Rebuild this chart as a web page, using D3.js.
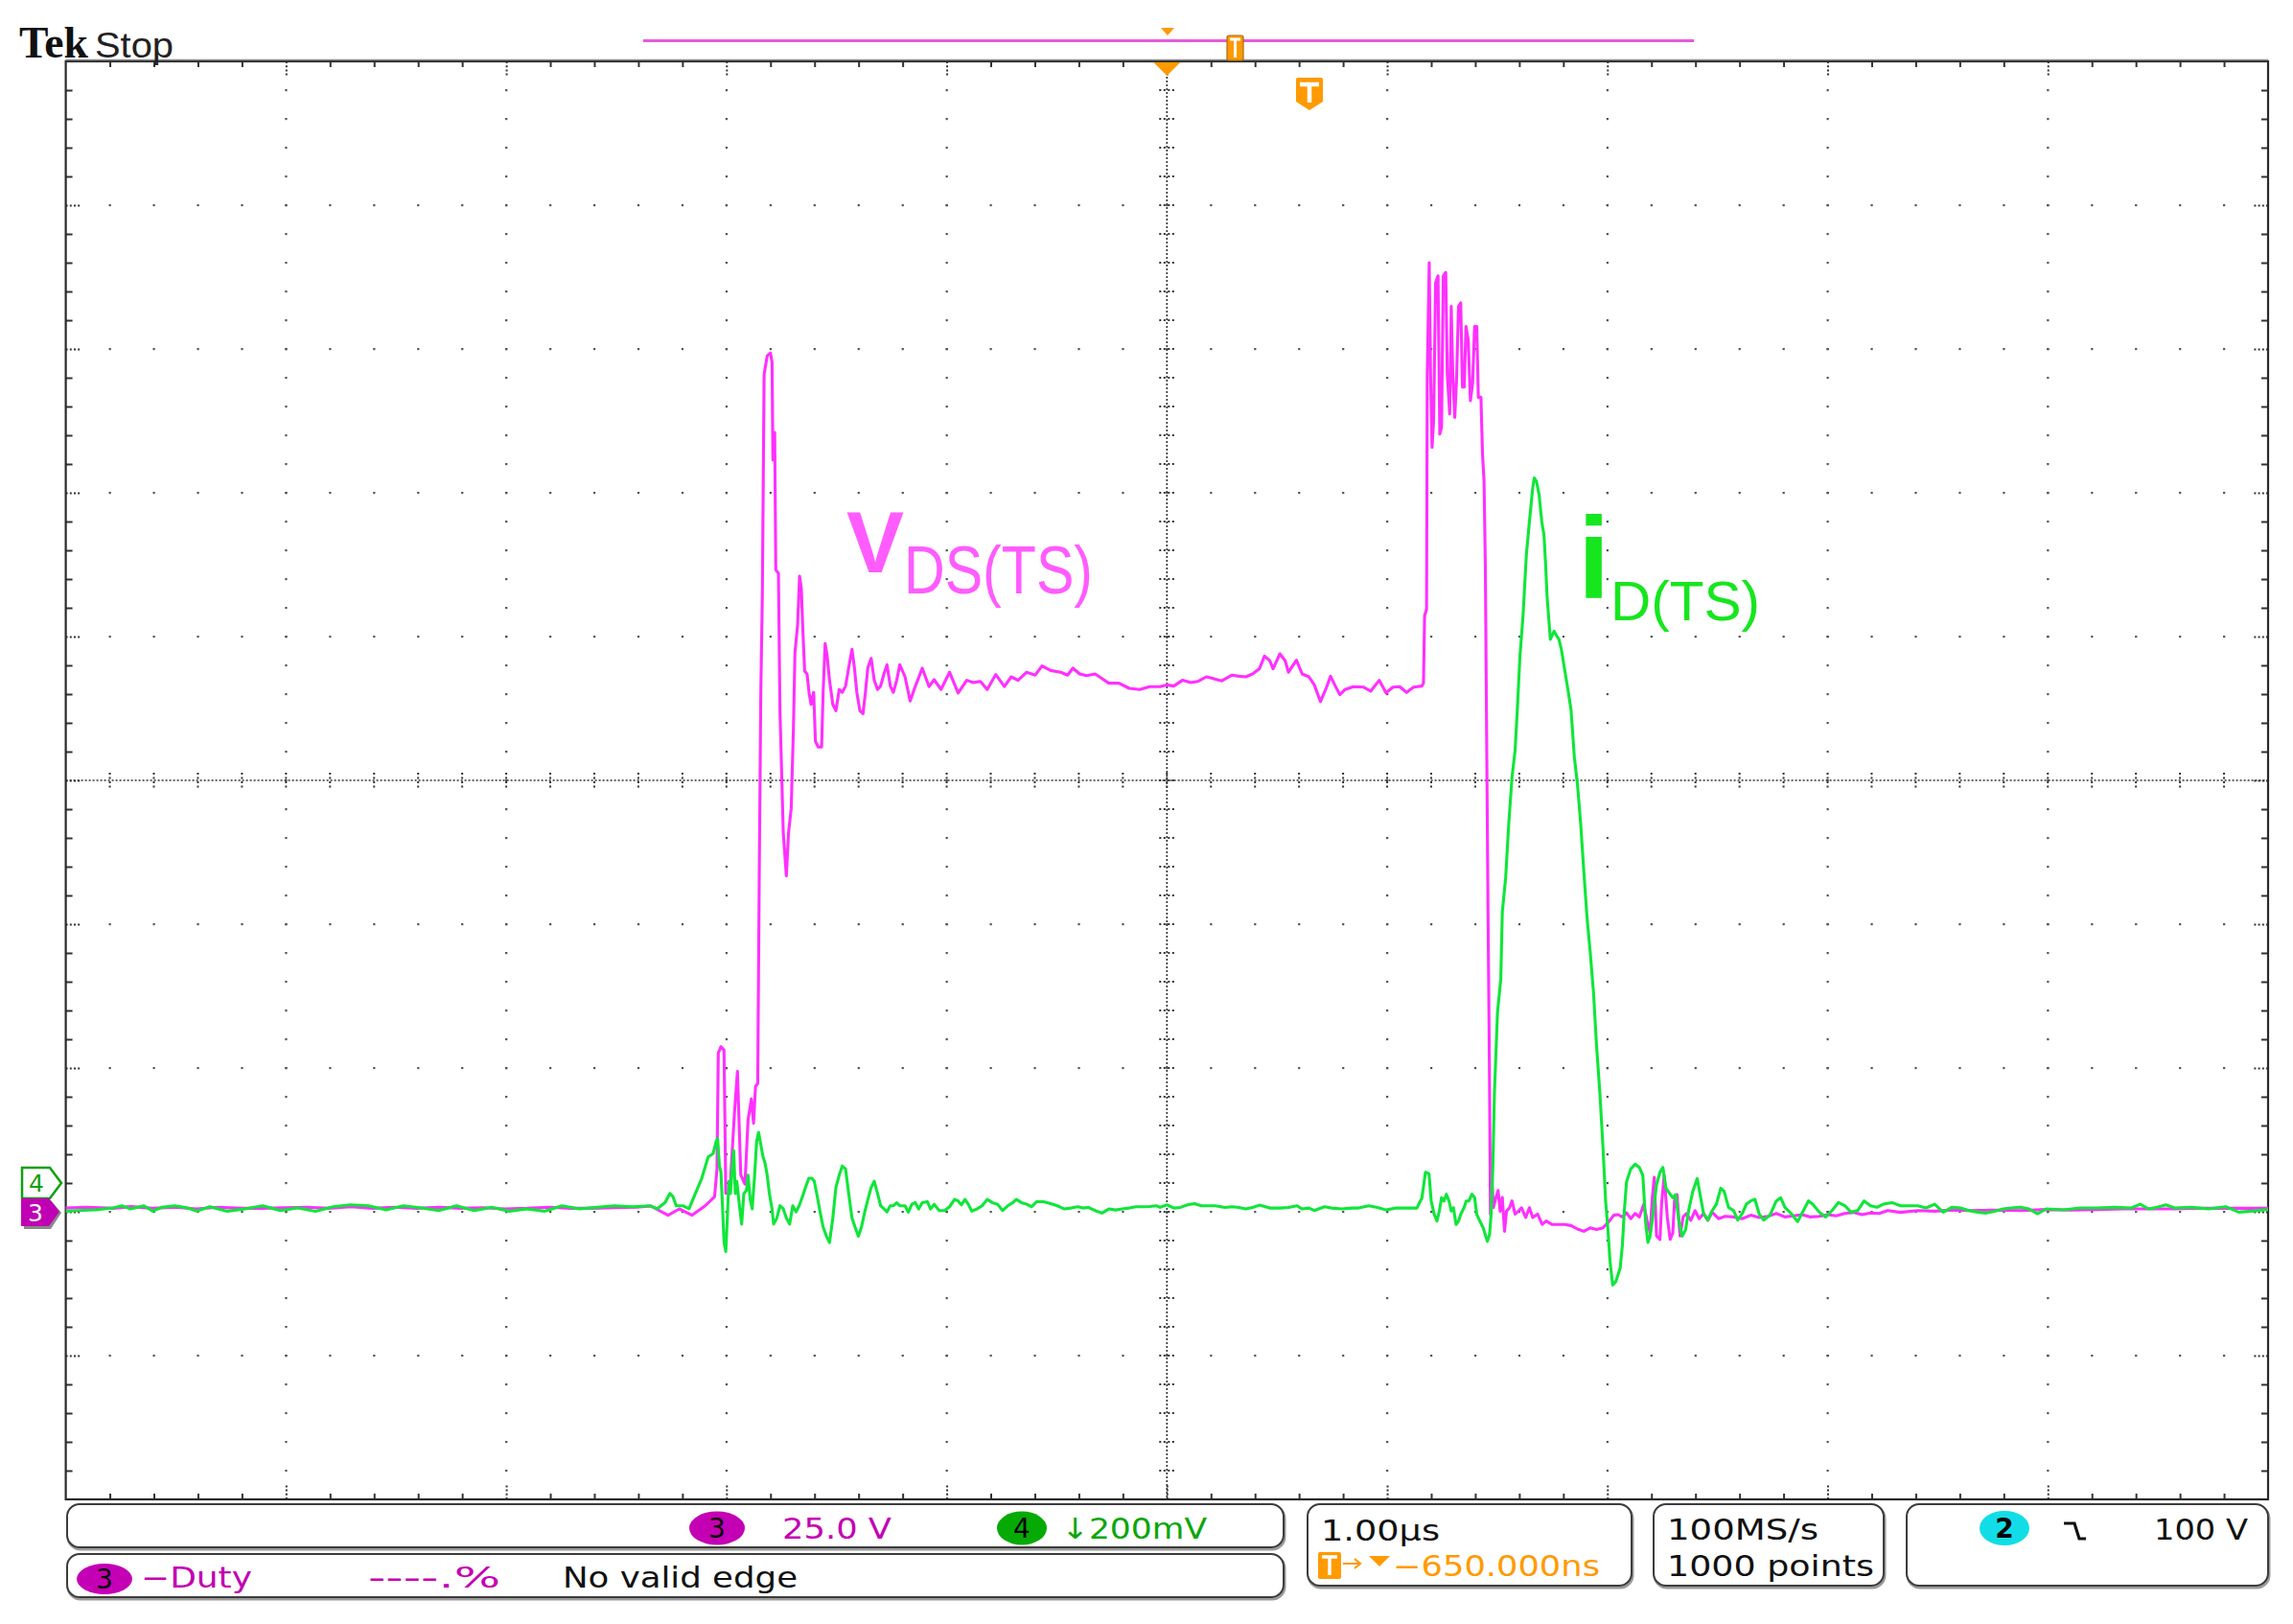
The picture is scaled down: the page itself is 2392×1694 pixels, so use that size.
<!DOCTYPE html>
<html><head><meta charset="utf-8">
<script src="https://cdn.jsdelivr.net/npm/d3@7"></script>
<style>html,body{margin:0;padding:0;background:#fff;}svg{display:block;}</style>
</head><body>
<svg id="c" width="2392" height="1694"></svg>
<script>
// ---- Data (time in µs relative to screen centre) ----
// Channel 3 : V_DS(TS) in volts (25 V/div)
const vdsTrace = [
[-5.0,0.65],[-4.905,0.8],[-4.785,0.6],[-4.705,0.9],[-4.605,0.6],[-4.505,0.8],[-4.406,0.5],[-4.306,0.8],[-4.206,0.6],[-4.106,0.6],[-4.006,0.7],[-3.906,0.8],[-3.806,0.6],[-3.706,0.9],[-3.606,0.6],[-3.506,0.8],[-3.406,0.6],[-3.306,0.8],[-3.206,0.6],[-3.106,0.7],[-3.006,0.5],[-2.906,0.6],[-2.807,0.8],[-2.707,0.6],[-2.607,0.6],[-2.507,0.7],[-2.407,0.8],
[-2.344,1.0],[-2.265,-0.6],[-2.214,0.5],[-2.156,-0.6],[-2.098,1.0],[-2.054,2.6],[-2.043,7.4],[-2.037,27.6],[-2.025,28.7],[-2.011,28.1],[-2.003,3.2],[-1.985,3.2],[-1.964,17.0],[-1.950,24.4],[-1.935,6.4],[-1.916,4.8],[-1.902,15.9],[-1.887,19.6],[-1.877,15.4],[-1.868,21.8],[-1.858,22.3],[-1.851,58.4],[-1.844,90.3],[-1.837,107.3],[-1.829,145.6],[-1.815,148.8],[-1.800,149.3],[-1.793,147.7],[-1.789,130.7],[-1.781,135.5],[-1.776,111.6],[-1.764,111.0],[-1.757,87.1],[-1.742,65.9],[-1.728,58.4],[-1.718,65.9],[-1.706,70.1],[-1.696,83.9],[-1.689,97.2],[-1.677,102.0],[-1.668,110.5],[-1.660,108.4],[-1.654,102.0],[-1.645,94.0],[-1.634,93.5],[-1.625,90.3],[-1.616,88.2],[-1.604,90.3],[-1.596,81.8],[-1.583,80.8],[-1.568,80.8],[-1.561,90.3],[-1.552,98.8],[-1.543,96.7],[-1.532,92.4],[-1.517,88.2],[-1.503,87.1],[-1.488,90.8],[-1.474,90.3],[-1.459,91.4],[-1.445,94.6],[-1.430,97.8],[-1.419,94.6],[-1.408,90.3],[-1.394,87.1],[-1.380,86.6],[-1.369,90.3],[-1.358,94.6],[-1.343,96.2],[-1.329,92.4],[-1.314,90.8],[-1.300,91.4],[-1.285,93.5],[-1.271,95.1],[-1.256,91.4],[-1.242,90.3],[-1.227,92.4],[-1.213,95.1],
[-1.189,93.0],[-1.166,88.8],[-1.143,91.3],[-1.111,94.5],[-1.080,91.3],[-1.057,92.5],[-1.026,90.8],[-0.987,93.8],[-0.948,90.2],[-0.909,92.4],[-0.878,92.0],[-0.847,92.2],[-0.816,90.8],[-0.777,93.4],[-0.738,91.3],[-0.707,93.0],[-0.676,92.4],[-0.637,93.8],[-0.598,93.3],[-0.567,94.9],[-0.528,94.1],[-0.482,93.8],[-0.451,93.3],[-0.427,94.5],[-0.396,93.5],[-0.365,93.2],[-0.326,93.5],[-0.295,92.7],[-0.264,91.9],[-0.218,91.9],[-0.171,91.0],[-0.124,90.8],[-0.078,91.3],[-0.031,91.3],[0.000,91.6],[0.031,91.4],[0.070,92.4],[0.109,92.0],[0.140,92.2],[0.179,93.0],[0.210,92.7],[0.249,92.3],[0.296,93.3],[0.327,93.1],[0.358,93.0],[0.389,93.5],[0.420,94.4],[0.443,96.6],[0.467,95.8],[0.482,94.4],[0.513,97.0],[0.537,95.8],[0.552,93.8],[0.588,95.9],[0.614,93.5],[0.645,93.0],[0.669,91.6],[0.697,88.7],[0.723,91.0],[0.743,93.1],[0.762,91.6],[0.785,89.9],[0.809,90.8],[0.847,91.3],[0.894,91.2],[0.925,90.5],[0.964,92.4],[0.995,90.2],[1.026,91.2],[1.057,91.3],[1.088,90.3],[1.120,91.2],[1.158,91.4],
[1.165,91.9],[1.170,103.6],[1.179,104.8],[1.182,145.1],[1.191,165.0],[1.197,145.7],[1.204,132.9],[1.211,137.5],[1.220,161.5],[1.231,162.7],[1.239,135.2],[1.247,136.4],[1.255,162.7],[1.266,163.3],[1.273,145.7],[1.284,138.7],[1.291,157.4],[1.298,145.7],[1.307,138.1],[1.315,144.5],[1.324,157.4],[1.334,158.0],[1.342,143.4],[1.350,143.4],[1.358,153.9],[1.368,151.6],[1.378,141.0],[1.388,144.0],[1.397,153.9],[1.407,153.9],[1.414,141.6],[1.426,141.6],[1.433,131.7],[1.440,127.0],[1.446,111.8],[1.452,81.4],[1.458,52.2],[1.464,26.5],[1.469,-0.4],[1.475,6.6],[1.482,0.7],[1.494,2.5],[1.504,3.7],[1.513,0.1],[1.523,2.5],[1.533,-3.4],[1.542,0.1],[1.556,0.7],[1.567,1.9],[1.581,-0.4],[1.596,0.1],[1.610,0.7],[1.629,-1.0],[1.646,0.7],[1.661,-1.0],[1.683,-0.4],[1.704,-2.2],[1.722,-1.6],[1.748,-2.2],[1.777,-2.2],[1.806,-2.2],[1.835,-2.4],[1.864,-3.0],[1.893,-3.4],[1.922,-2.8],[1.951,-3.1],[1.980,-2.8],[2.009,-1.6],
[2.029,-0.6],[2.048,-0.5],[2.068,-0.9],[2.087,-0.2],[2.106,-1.2],[2.126,-0.3],[2.145,-0.9],[2.165,1.3],[2.180,-1.5],[2.194,-3.7],[2.204,2.4],[2.213,6.0],[2.223,-4.2],[2.239,-4.8],[2.246,1.3],[2.258,6.3],[2.272,-0.9],[2.285,-4.8],[2.297,-3.7],[2.305,1.9],[2.316,3.0],[2.330,-4.2],[2.344,-0.9],[2.359,-0.3],[2.379,-1.5],[2.398,0.2],[2.417,-1.2],[2.437,-0.3],[2.456,-1.5],[2.476,-0.1],[2.505,-1.2],[2.534,-0.8],[2.573,-0.9],[2.612,-1.2],[2.651,-0.6],[2.689,-1.0],[2.728,-0.8],[2.767,-0.3],[2.806,-0.9],[2.845,-0.7],[2.884,-0.5],[2.923,-0.9],[2.962,-0.8],[3.000,-0.5],[3.039,-0.7],[3.078,-0.3],[3.117,-0.1],[3.156,-0.5],[3.195,-0.2],[3.234,-0.3],[3.273,0.2],[3.331,-0.1],[3.409,0.2],[3.486,0.1],[3.564,0.3],[3.642,0.2],[3.758,0.3],[3.875,0.2],[3.992,0.4],[4.108,0.3],[4.225,0.4],[4.342,0.5],[4.458,0.5],[4.575,0.5],[4.691,0.6],[4.808,0.6],[4.925,0.6],[5.0,0.6]
];
// Channel 4 : i_D(TS) probe output in mV (200 mV/div)
const idTrace = [
[-5.0,-39.2],[-4.945,-38.3],[-4.865,-37.4],[-4.785,-34.7],[-4.745,-31.6],[-4.705,-36.0],[-4.645,-31.6],[-4.605,-39.2],[-4.565,-33.8],[-4.505,-31.6],[-4.446,-34.7],[-4.406,-39.2],[-4.346,-32.9],[-4.266,-39.2],[-4.186,-36.0],[-4.106,-31.6],[-4.026,-38.3],[-3.946,-34.7],[-3.866,-39.2],[-3.786,-32.9],[-3.706,-30.3],[-3.626,-31.6],[-3.546,-37.4],[-3.466,-31.6],[-3.386,-34.7],[-3.306,-38.3],[-3.226,-31.6],[-3.146,-38.3],[-3.066,-33.8],[-2.986,-39.2],[-2.906,-36.0],[-2.827,-39.2],[-2.747,-31.6],[-2.667,-36.0],[-2.587,-33.8],[-2.507,-31.6],[-2.427,-32.9],[-2.347,-31.6],
[-2.315,-35.9],[-2.279,-27.4],[-2.257,-14.6],[-2.243,-18.9],[-2.228,-31.6],[-2.199,-31.6],[-2.170,-35.9],[-2.141,-14.6],[-2.112,6.6],[-2.083,36.4],[-2.061,40.6],[-2.047,57.6],[-2.040,61.9],[-2.032,23.6],[-2.025,15.1],[-2.018,-31.6],[-2.011,-82.7],[-2.003,-95.4],[-1.996,-48.6],[-1.989,2.4],[-1.982,-14.6],[-1.974,19.4],[-1.967,44.9],[-1.960,-14.6],[-1.953,2.4],[-1.941,-31.6],[-1.931,-57.1],[-1.921,-14.6],[-1.909,-10.4],[-1.902,10.9],[-1.892,-23.1],[-1.883,-35.9],[-1.873,6.6],[-1.863,57.6],[-1.854,70.4],[-1.844,53.4],[-1.834,36.4],[-1.825,27.9],[-1.815,10.9],[-1.805,-14.6],[-1.793,-35.9],[-1.786,-57.1],[-1.771,-48.6],[-1.757,-31.6],[-1.742,-35.9],[-1.728,-48.6],[-1.713,-57.1],[-1.699,-31.6],[-1.684,-40.1],[-1.670,-31.6],[-1.655,-18.9],[-1.641,-6.1],[-1.626,6.6],[-1.612,6.6],[-1.601,2.4],[-1.590,-14.6],[-1.575,-40.1],[-1.561,-61.4],[-1.546,-74.1],[-1.532,-82.7],[-1.517,-48.6],[-1.503,-6.1],[-1.488,10.9],[-1.474,23.6],[-1.459,19.4],[-1.445,-14.6],[-1.430,-48.6],[-1.416,-61.4],[-1.401,-74.1],[-1.387,-61.4],[-1.372,-40.1],[-1.358,-23.1],[-1.343,-6.1],[-1.329,2.4],[-1.314,-14.6],[-1.300,-31.6],[-1.285,-35.9],[-1.271,-40.1],[-1.256,-31.6],[-1.242,-31.6],[-1.227,-27.4],[-1.213,-31.6],
[-1.189,-31.7],[-1.174,-40.6],[-1.158,-29.5],[-1.143,-27.2],[-1.127,-36.1],[-1.111,-27.2],[-1.088,-25.9],[-1.073,-36.1],[-1.057,-29.5],[-1.034,-38.3],[-1.010,-38.3],[-0.987,-33.0],[-0.964,-22.8],[-0.948,-25.0],[-0.933,-30.3],[-0.917,-22.8],[-0.902,-29.5],[-0.886,-39.2],[-0.863,-36.1],[-0.839,-31.7],[-0.816,-22.8],[-0.793,-27.2],[-0.769,-29.5],[-0.746,-38.3],[-0.723,-31.7],[-0.699,-27.2],[-0.684,-22.8],[-0.661,-27.2],[-0.637,-29.5],[-0.614,-33.0],[-0.591,-25.9],[-0.560,-25.9],[-0.528,-28.6],[-0.497,-31.7],[-0.466,-36.1],[-0.435,-34.8],[-0.404,-33.0],[-0.381,-34.8],[-0.357,-33.9],[-0.326,-38.3],[-0.295,-41.9],[-0.264,-36.1],[-0.233,-37.5],[-0.202,-36.1],[-0.171,-34.8],[-0.140,-33.0],[-0.109,-33.0],[-0.078,-32.6],[-0.046,-31.7],[-0.031,-33.9],[0.000,-30.3],[0.031,-34.8],[0.062,-33.9],[0.093,-30.3],[0.125,-28.6],[0.156,-31.7],[0.187,-31.7],[0.218,-31.7],[0.264,-33.9],[0.296,-33.0],[0.327,-33.9],[0.358,-36.1],[0.389,-33.9],[0.420,-30.8],[0.467,-34.8],[0.513,-34.8],[0.552,-33.9],[0.591,-31.7],[0.614,-36.1],[0.645,-34.8],[0.669,-38.3],[0.715,-33.0],[0.746,-34.8],[0.793,-36.1],[0.840,-34.8],[0.871,-34.8],[0.917,-31.7],[0.956,-33.9],[0.995,-37.5],[1.042,-34.8],[1.088,-34.8],[1.135,-34.8],[1.158,-20.6],[1.174,15.0],[1.190,12.8],[1.200,-25.0],[1.213,-42.8],
[1.226,-53.0],[1.237,-39.0],[1.247,-20.3],[1.258,-25.0],[1.269,-15.6],[1.281,-25.0],[1.291,-39.0],[1.301,-34.3],[1.313,-57.7],[1.324,-53.0],[1.334,-43.7],[1.349,-34.3],[1.359,-25.0],[1.371,-25.0],[1.385,-15.6],[1.397,-20.3],[1.407,-43.7],[1.421,-53.0],[1.436,-62.4],[1.455,-81.1],[1.465,-71.8],[1.472,-43.7],[1.480,21.8],[1.487,124.7],[1.501,237.0],[1.516,283.8],[1.523,377.3],[1.538,424.1],[1.552,498.9],[1.567,564.4],[1.581,601.8],[1.591,658.0],[1.603,732.8],[1.617,788.9],[1.632,873.1],[1.646,920.0],[1.661,966.7],[1.668,980.7],[1.678,976.0],[1.690,957.3],[1.702,920.0],[1.712,901.2],[1.719,863.8],[1.726,817.0],[1.734,784.2],[1.741,756.2],[1.748,760.9],[1.758,767.4],[1.770,760.9],[1.780,756.2],[1.791,742.1],[1.806,714.1],[1.821,686.0],[1.835,658.0],[1.850,592.5],[1.864,555.0],[1.879,498.9],[1.893,433.4],[1.908,367.9],[1.922,321.2],[1.937,265.0],[1.951,190.2],[1.966,124.7],[1.980,49.9],[1.992,-25.0],[2.002,-62.4],[2.012,-109.2],[2.024,-141.9],[2.038,-137.2],
[2.058,-118.3],[2.068,-87.2],[2.077,-38.3],[2.087,1.7],[2.106,19.5],[2.126,26.2],[2.145,21.7],[2.161,10.6],[2.174,-56.0],[2.184,-82.7],[2.194,-73.8],[2.204,-51.6],[2.223,-2.7],[2.239,15.1],[2.252,21.7],[2.266,-7.2],[2.281,-13.8],[2.297,-20.5],[2.310,-16.1],[2.324,-51.6],[2.340,-73.8],[2.355,-64.9],[2.369,-38.3],[2.388,-11.6],[2.408,6.2],[2.421,-16.1],[2.437,-42.7],[2.456,-51.6],[2.476,-38.3],[2.495,-29.4],[2.515,-7.2],[2.530,-11.6],[2.550,-33.8],[2.573,-38.3],[2.592,-51.6],[2.612,-42.7],[2.631,-29.4],[2.651,-24.9],[2.670,-22.7],[2.689,-42.7],[2.709,-51.6],[2.738,-44.9],[2.767,-24.9],[2.787,-20.5],[2.806,-33.8],[2.835,-42.7],[2.864,-53.8],[2.894,-36.0],[2.913,-24.9],[2.932,-29.4],[2.962,-40.5],[2.991,-47.2],[3.020,-38.3],[3.049,-27.2],[3.078,-31.6],[3.107,-40.5],[3.137,-38.3],[3.166,-24.9],[3.195,-31.6],[3.224,-33.8],[3.253,-29.4],[3.292,-27.2],[3.331,-31.6],[3.370,-31.6],[3.409,-31.6],[3.447,-34.7],[3.486,-29.4],[3.525,-40.5],[3.564,-33.8],[3.603,-34.7],[3.642,-38.3],[3.681,-40.5],[3.720,-41.8],[3.758,-39.2],[3.797,-36.0],[3.836,-34.7],[3.875,-33.8],[3.914,-36.0],[3.953,-42.7],[3.992,-36.0],[4.069,-37.4],[4.147,-34.7],[4.225,-34.7],[4.303,-33.8],[4.380,-34.7],[4.419,-29.4],[4.458,-36.0],[4.497,-33.8],[4.536,-30.3],[4.575,-34.7],[4.652,-33.8],[4.730,-36.0],[4.808,-32.9],[4.866,-40.5],[4.925,-39.2],[4.983,-37.4],[5.0,-37.0]
];
// Scope settings / readouts
const timeDomain = [-5, 5];          // µs, 1.00 µs/div
const ch3Domain = [-50, 200];        // V, 25.0 V/div, ground 3 div below centre
const ch4Domain = [-440, 1560];      // mV, 200 mV/div, ground 2.8 div below centre
const divDomain = [-5, 5];
const readoutRow1 = ["3", "25.0 V", "4", "\u2193200mV"];
const readoutRow2 = ["3", "\u2212Duty", "----.%", "No valid edge"];
const horizReadout = ["1.00\u00b5s", "\u2212650.000ns"];
const acqReadout = ["100MS/s", "1000 points"];
const trigReadout = ["2", "100 V"];
const traceLabels = ["V", "DS(TS)", "i", "D(TS)"];

// ---- Drawing ----
const svg = d3.select("#c");
const L = 68.6, R = 2366, T = 64, B = 1564;
const x = d3.scaleLinear().domain(timeDomain).range([L, R]);
const yDiv = d3.scaleLinear().domain(divDomain).range([B, T]);
const yV = d3.scaleLinear().domain(ch3Domain).range([B, T]);
const yI = d3.scaleLinear().domain(ch4Domain).range([B, T]);

svg.append("rect").attr("width", 2392).attr("height", 1694).attr("fill", "#fff");

const majorX = d3.range(-5, 5.0001, 1), minorX = d3.range(-5, 5.0001, 0.2);
const majorY = d3.range(-5, 5.0001, 1), minorY = d3.range(-5, 5.0001, 0.2);
const near = (a, b) => Math.abs(a - b) < 1e-6;
const dots = [];
majorX.filter(v => !near(v,-5) && !near(v,5) && !near(v,0)).forEach(mx =>
  minorY.filter(v => !near(v,-5) && !near(v,5)).forEach(my => dots.push([x(mx), yDiv(my)])));
majorY.filter(v => !near(v,-5) && !near(v,5) && !near(v,0)).forEach(my =>
  minorX.filter(v => !near(v,-5) && !near(v,5)).forEach(mx => dots.push([x(mx), yDiv(my)])));
svg.append("g").selectAll("rect").data(dots).join("rect")
  .attr("x", d => d[0] - 1).attr("y", d => d[1] - 1).attr("width", 2.2).attr("height", 2.2)
  .attr("fill", "#555");

// centre cross lines
const g0 = svg.append("g").attr("stroke", "#333");
g0.append("line").attr("x1", x(0)).attr("x2", x(0)).attr("y1", T).attr("y2", B)
  .attr("stroke-width", 1.6).attr("stroke-dasharray", "2,2");
g0.append("line").attr("x1", L).attr("x2", R).attr("y1", yDiv(0)).attr("y2", yDiv(0))
  .attr("stroke-width", 1.6).attr("stroke-dasharray", "2,2");
g0.selectAll("line.ty").data(minorY.filter(v => !near(v,-5) && !near(v,5))).join("line")
  .attr("x1", x(0) - 8).attr("x2", x(0) + 8).attr("y1", d => yDiv(d)).attr("y2", d => yDiv(d))
  .attr("stroke-width", 2).attr("stroke-dasharray", "2,2.5");
g0.selectAll("line.tx").data(minorX.filter(v => !near(v,-5) && !near(v,5))).join("line")
  .attr("y1", yDiv(0) - 8).attr("y2", yDiv(0) + 8).attr("x1", d => x(d)).attr("x2", d => x(d))
  .attr("stroke-width", 2).attr("stroke-dasharray", "2,2.5");

// edge ticks via axes
function edgeAxis(axis, tr, vals, size) {
  const g = svg.append("g").attr("transform", tr)
    .call(axis.tickValues(vals).tickSize(size).tickFormat(""));
  g.select(".domain").remove();
  g.selectAll("line").attr("stroke", "#333").attr("stroke-width", 2);
  return g;
}
const minorOnlyX = minorX.filter(v => !majorX.some(m => near(m, v)));
const minorOnlyY = minorY.filter(v => !majorY.some(m => near(m, v)));
edgeAxis(d3.axisTop(x), `translate(0,${T})`, minorOnlyX, -6);
edgeAxis(d3.axisBottom(x), `translate(0,${B})`, minorOnlyX, -6);
edgeAxis(d3.axisLeft(yDiv), `translate(${L},0)`, minorOnlyY, -7);
edgeAxis(d3.axisRight(yDiv), `translate(${R},0)`, minorOnlyY, -7);
const innerMajX = majorX.filter(v => !near(v,-5) && !near(v,5));
const innerMajY = majorY.filter(v => !near(v,-5) && !near(v,5));
[edgeAxis(d3.axisTop(x), `translate(0,${T})`, innerMajX, -16),
 edgeAxis(d3.axisBottom(x), `translate(0,${B})`, innerMajX, -16),
 edgeAxis(d3.axisLeft(yDiv), `translate(${L},0)`, innerMajY, -16),
 edgeAxis(d3.axisRight(yDiv), `translate(${R},0)`, innerMajY, -16)]
 .forEach(g => g.selectAll("line").attr("stroke-dasharray", "2,2.2"));

// frame
svg.append("rect").attr("x", L).attr("y", T).attr("width", R - L).attr("height", B - T)
  .attr("fill", "none").attr("stroke", "#2a2a2a").attr("stroke-width", 2.2);
svg.append("line").attr("x1", L).attr("x2", R).attr("y1", T - 1.5).attr("y2", T - 1.5)
  .attr("stroke", "#8a8a8a").attr("stroke-width", 1.5);

// traces
const lineV = d3.line().x(d => x(d[0])).y(d => yV(d[1]));
const lineI = d3.line().x(d => x(d[0])).y(d => yI(d[1]));
svg.append("path").datum(vdsTrace).attr("d", lineV).attr("fill", "none")
  .attr("stroke", "#ff30ff").attr("stroke-width", 3.1).attr("stroke-linejoin", "round");
svg.append("path").datum(idTrace).attr("d", lineI).attr("fill", "none")
  .attr("stroke", "#10e63a").attr("stroke-width", 3.1).attr("stroke-linejoin", "round");

// trace labels
svg.append("text").attr("x", 883).attr("y", 597).text(traceLabels[0])
  .attr("font-family", "Liberation Sans, Arial, sans-serif").attr("font-weight", "bold")
  .attr("font-size", 90).attr("fill", "#ff5cff");
svg.append("text").attr("x", 943).attr("y", 619).text(traceLabels[1])
  .attr("font-family", "Liberation Sans, Arial, sans-serif").attr("font-size", 70)
  .attr("textLength", 197).attr("lengthAdjust", "spacingAndGlyphs").attr("fill", "#ff5cff");
svg.append("text").attr("x", 1646).attr("y", 624).text(traceLabels[2])
  .attr("font-family", "Liberation Sans, Arial, sans-serif").attr("font-weight", "bold")
  .attr("font-size", 120).attr("fill", "#16e61e");
svg.append("text").attr("x", 1680).attr("y", 647).text(traceLabels[3])
  .attr("font-family", "Liberation Sans, Arial, sans-serif").attr("font-size", 58)
  .attr("textLength", 156).attr("lengthAdjust", "spacingAndGlyphs").attr("fill", "#16e61e");

// Tek Stop
svg.append("text").attr("x", 20).attr("y", 60).text("Tek")
  .attr("font-family", "Liberation Serif, serif").attr("font-weight", "bold").attr("font-size", 46)
  .attr("textLength", 72).attr("lengthAdjust", "spacingAndGlyphs").attr("fill", "#111");
svg.append("text").attr("x", 99).attr("y", 60).text("Stop")
  .attr("font-family", "Liberation Sans, sans-serif").attr("font-size", 37)
  .attr("textLength", 82).attr("lengthAdjust", "spacingAndGlyphs").attr("fill", "#222");

// record bar and markers
const orange = "#ff9a00";
svg.append("line").attr("x1", 671).attr("x2", 1767).attr("y1", 42.5).attr("y2", 42.5)
  .attr("stroke", "#e55ad8").attr("stroke-width", 3);
svg.append("path").attr("d", "M1211,29 L1225,29 L1218,37 Z").attr("fill", orange);
svg.append("path").attr("d", `M${x(0)-14},${T+1} L${x(0)+14},${T+1} L${x(0)},${T+15} Z`).attr("fill", orange);
svg.append("rect").attr("x", 1280).attr("y", 37).attr("width", 17).attr("height", 26).attr("rx", 2)
  .attr("fill", orange).attr("stroke", "#a86a10").attr("stroke-width", 1.2);
svg.append("path").attr("d", "M1283,41 H1294 M1288.5,41 V60").attr("stroke", "#fff").attr("stroke-width", 3);
svg.append("path").attr("d", "M1352,83 Q1352,81 1354,81 H1378 Q1380,81 1380,83 V106 L1366,115 L1352,106 Z")
  .attr("fill", orange);
svg.append("path").attr("d", "M1356,88 H1376 M1366,88 V107").attr("stroke", "#fff").attr("stroke-width", 4.5);

// channel ground markers
const yM4 = yDiv(-2.8), yM3 = yDiv(-3.0);
svg.append("path").attr("d", `M23,${yM4-16} H52 L64,${yM4} L52,${yM4+16} H23 Z`)
  .attr("fill", "#fff").attr("stroke", "#10a010").attr("stroke-width", 2.5);
svg.append("text").attr("x", 38).attr("y", yM4 + 9).attr("text-anchor", "middle").text("4")
  .attr("font-family", "DejaVu Sans, sans-serif").attr("font-size", 25).attr("fill", "#10a010");
svg.append("path").attr("d", `M24,${yM3-13} H52 L63,${yM3} L52,${yM3+17} H24 Z`)
  .attr("fill", "#888").attr("transform", "translate(1,1)");
svg.append("path").attr("d", `M22,${yM3-14} H51 L62,${yM3} L51,${yM3+15} H22 Z`)
  .attr("fill", "#c000b4");
svg.append("text").attr("x", 37).attr("y", yM3 + 10).attr("text-anchor", "middle").text("3")
  .attr("font-family", "DejaVu Sans, sans-serif").attr("font-size", 25).attr("fill", "#fff");

// bottom readout boxes
function box(x0, y0, x1, y1) {
  svg.append("rect").attr("x", x0 + 1).attr("y", y0 + 2).attr("width", x1 - x0).attr("height", y1 - y0)
    .attr("rx", 13).attr("fill", "none").attr("stroke", "#9a9a9a").attr("stroke-width", 3);
  svg.append("rect").attr("x", x0).attr("y", y0).attr("width", x1 - x0).attr("height", y1 - y0)
    .attr("rx", 13).attr("fill", "#fff").attr("stroke", "#3c3c3c").attr("stroke-width", 2);
}
box(70, 1569, 1339, 1614);
box(70, 1621, 1339, 1666);
box(1364, 1569, 1702, 1654);
box(1725, 1569, 1965, 1654);
box(1989, 1569, 2366, 1654);

const F = "DejaVu Sans, Verdana, sans-serif";
function txt(s, x0, y0, len, fill, size) {
  const t = svg.append("text").attr("x", x0).attr("y", y0).text(s)
    .attr("font-family", F).attr("font-size", size || 30).attr("fill", fill);
  if (len) t.attr("textLength", len).attr("lengthAdjust", "spacingAndGlyphs");
  return t;
}
function badge(cx, cy, rx, ry, fill, label, bold) {
  svg.append("ellipse").attr("cx", cx).attr("cy", cy).attr("rx", rx).attr("ry", ry).attr("fill", fill);
  svg.append("text").attr("x", cx).attr("y", cy + 10).attr("text-anchor", "middle").text(label)
    .attr("font-family", F).attr("font-size", 28).attr("font-weight", bold ? "bold" : "normal").attr("fill", "#000");
}
const mag = "#c400b4", grn = "#0aa70a";
badge(748, 1594, 29, 17.5, mag, readoutRow1[0]);
txt(readoutRow1[1], 816, 1605, 114, mag);
badge(1066, 1594, 26, 17.5, "#05aa05", readoutRow1[2]);
txt(readoutRow1[3], 1107, 1605, 152, grn);
badge(109, 1647, 29, 16, mag, readoutRow2[0]);
txt(readoutRow2[1], 147, 1656, 116, mag);
txt(readoutRow2[2], 384, 1656, 138, mag);
txt(readoutRow2[3], 587, 1656, 245, "#111");

txt(horizReadout[0], 1378, 1607, 124, "#111");
svg.append("rect").attr("x", 1375).attr("y", 1619).attr("width", 24).attr("height", 28).attr("rx", 2).attr("fill", orange);
svg.append("path").attr("d", "M1379,1624 H1395 M1387,1624 V1643").attr("stroke", "#fff").attr("stroke-width", 3.5);
svg.append("path").attr("d", "M1401,1631 H1418 M1413,1626 L1419,1631 L1413,1636").attr("stroke", orange)
  .attr("stroke-width", 2.2).attr("fill", "none");
svg.append("path").attr("d", "M1428,1623 L1450,1623 L1439,1634 Z").attr("fill", orange);
txt(horizReadout[1], 1453, 1644, 216, orange);

txt(acqReadout[0], 1739, 1606, 158, "#111");
txt(acqReadout[1], 1739, 1644, 216, "#111");

badge(2091, 1594, 26, 18, "#12dde6", trigReadout[0], true);
svg.append("path").attr("d", "M2153,1589 H2164 L2169,1605 H2176").attr("stroke", "#111")
  .attr("stroke-width", 3.2).attr("fill", "none");
txt(trigReadout[1], 2247, 1606, 98, "#111");
</script>
</body></html>
